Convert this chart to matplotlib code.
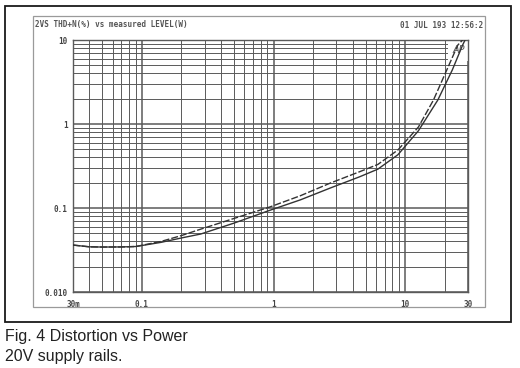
import matplotlib
matplotlib.use('Agg')
import matplotlib.pyplot as plt
from matplotlib.patches import Rectangle
from matplotlib.ticker import LogLocator, NullFormatter, FixedLocator, FixedFormatter

# measured THD+N (%) vs output level (W), two channels
power_a = [0.03, 0.04, 0.05, 0.07, 0.09, 0.14, 0.2, 0.28, 0.5, 0.94, 1.6, 2.7,
           4.5, 6.2, 8.8, 12.6, 16.4, 20.7, 25.1, 27.3]
thd_a = [0.0362, 0.0345, 0.0343, 0.0344, 0.0348, 0.040, 0.047, 0.056, 0.075,
         0.103, 0.14, 0.198, 0.27, 0.33, 0.49, 0.92, 1.93, 4.4, 8.7, 10.0]

power_b = [0.03, 0.04, 0.05, 0.07, 0.09, 0.14, 0.2, 0.28, 0.5, 0.94, 1.6, 2.7,
           4.5, 6.2, 8.8, 12.6, 17.7, 22.8, 27.3, 28.5]
thd_b = [0.0362, 0.0345, 0.0343, 0.0344, 0.0348, 0.039, 0.044, 0.049, 0.066,
         0.094, 0.125, 0.173, 0.235, 0.29, 0.43, 0.83, 1.93, 4.4, 8.7, 10.0]

x_ticks = [0.03, 0.1, 1, 10, 30]
x_labels = ['30m', '0.1', '1', '10', '30']
y_ticks = [0.01, 0.1, 1, 10]
y_labels = ['0.010', '0.1', '1', '10']

W, H = 520, 368
fig = plt.figure(figsize=(W / 100, H / 100), dpi=100)
fig.patch.set_facecolor('white')

# outer black border + inner gray frame of the analyser printout
fig.add_artist(Rectangle((5 / W, 1 - 322 / H), 506 / W, 316 / H, transform=fig.transFigure,
                         fill=False, edgecolor='#1a1a1a', linewidth=1.3))
fig.add_artist(Rectangle((33 / W, 1 - 307 / H), 452 / W, 291 / H, transform=fig.transFigure,
                         fill=False, edgecolor='#9a9a9a', linewidth=0.9))

ax = fig.add_axes([73 / W, 1 - 292 / H, 395 / W, 252 / H])
ax.set_xscale('log')
ax.set_yscale('log')
ax.set_xlim(0.03, 30)
ax.set_ylim(0.01, 10)

grid_col = '#5a5a5a'
ax.xaxis.set_minor_locator(LogLocator(base=10, subs=range(2, 10)))
ax.yaxis.set_minor_locator(LogLocator(base=10, subs=range(2, 10)))
ax.xaxis.set_major_locator(FixedLocator(x_ticks))
ax.xaxis.set_major_formatter(FixedFormatter(x_labels))
ax.yaxis.set_major_locator(FixedLocator(y_ticks))
ax.yaxis.set_major_formatter(FixedFormatter(y_labels))
ax.xaxis.set_minor_formatter(NullFormatter())
ax.yaxis.set_minor_formatter(NullFormatter())
ax.grid(True, which='major', color=grid_col, linewidth=1.1)
ax.grid(True, which='minor', color=grid_col, linewidth=0.7)
ax.tick_params(which='both', length=0)
ax.tick_params(axis='x', pad=6)
ax.tick_params(axis='y', pad=4)
for lab in ax.get_xticklabels() + ax.get_yticklabels():
    lab.set_family('DejaVu Sans Mono')
    lab.set_fontsize(5.5)
    lab.set_fontweight('bold')
    lab.set_color('#444444')
for s in ax.spines.values():
    s.set_color(grid_col)
    s.set_linewidth(1.0)

# logo box at top right
ax.add_patch(Rectangle((21, 5.6), 9, 4.4, facecolor='white', edgecolor='none', zorder=2))
ax.text(25.5, 7.5, 'AP', fontsize=7, style='italic', color='#555555',
        ha='center', va='center', zorder=3)

ax.plot(power_a, thd_a, color='#333333', linewidth=1.0, linestyle=(0, (5, 1.5)), zorder=4)
ax.plot(power_b, thd_b, color='#333333', linewidth=1.0, zorder=4)

fig.text(35 / W, 1 - 25 / H, '2VS THD+N(%) vs measured LEVEL(W)', family='DejaVu Sans Mono',
         fontsize=5.5, fontweight='bold', color='#555555', va='center', ha='left')
fig.text(483 / W, 1 - 25 / H, '01 JUL 193 12:56:2', family='DejaVu Sans Mono',
         fontsize=5.5, fontweight='bold', color='#555555', va='center', ha='right')

fig.text(5 / W, 1 - 336 / H, 'Fig. 4 Distortion vs Power', family='Liberation Sans',
         fontsize=11.5, color='#222222', va='center', ha='left')
fig.text(5 / W, 1 - 357 / H, '20V supply rails.', family='Liberation Sans',
         fontsize=11.5, color='#222222', va='center', ha='left')

fig.savefig('out.png', dpi=100, facecolor='white')
